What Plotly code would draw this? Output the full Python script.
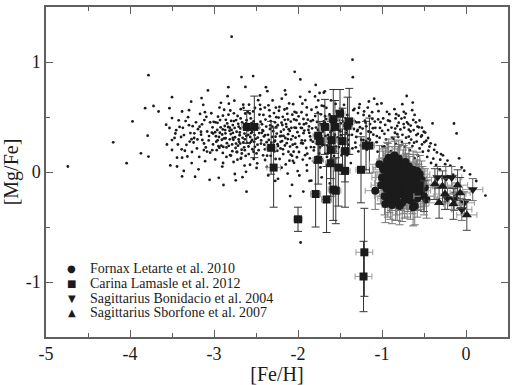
import plotly.graph_objects as go

# ---------------- Milky Way field stars (small dots) ----------------
mw_metal_poor = [(-4.74,0.05),(-4.20,0.27),(-4.04,0.08),(-3.97,0.46),(-3.87,0.17),(-3.82,0.58),(-3.78,0.88),(-3.78,0.14),
 (-3.79,0.33),(-3.72,0.60),(-3.66,0.55),(-3.57,0.43),(-3.53,0.40),(-3.53,0.58),(-3.50,0.68),(-3.50,0.49),(-3.50,0.29),
 (-3.52,0.06),(-3.56,0.25),(-3.50,0.20),(-3.43,0.25),(-3.44,0.05),(-3.44,0.13),(-3.38,0.13),(-3.36,0.01),(-3.38,-0.04),
 (-3.38,0.55),(-3.46,0.35),(-3.41,0.41),(-3.47,0.31),(-3.42,0.47),(-3.45,0.38)]

mw_band_34_30 = [(-3.392,0.318),(-3.214,0.452),(-3.063,0.287),(-3.347,0.193),(-3.128,0.611),(-3.281,0.354),(-3.017,0.406),
 (-3.176,0.137),(-3.309,0.498),(-3.098,0.223),(-3.243,0.268),(-3.371,0.402),(-3.154,0.339),(-3.032,0.534),(-3.266,0.081),
 (-3.191,0.389),(-3.115,0.472),(-3.328,0.247),(-3.046,0.176),(-3.225,-0.043),(-3.139,0.291),(-3.297,0.562),(-3.081,0.368),
 (-3.358,0.336),(-3.012,0.251),(-3.203,0.214),(-3.166,0.528),(-3.254,0.417),(-3.072,0.742),(-3.317,0.141),(-3.106,0.098),
 (-3.236,0.309),(-3.052,-0.071),(-3.184,0.024),(-3.289,0.277),(-3.143,0.433),(-3.026,0.358),(-3.385,0.206),(-3.121,0.199),
 (-3.272,0.639),(-3.091,0.502),(-3.338,0.463),(-3.197,0.296),(-3.059,0.327),(-3.148,0.672),(-3.262,0.182),(-3.004,0.456)]

mw_band_30_25 = [(-2.987,0.362),(-2.743,0.218),(-2.612,0.471),(-2.881,0.305),(-2.556,0.389),(-2.934,0.586),(-2.695,0.334),
 (-2.808,0.153),(-2.521,0.274),(-2.967,0.198),(-2.652,0.612),(-2.776,0.427),(-2.903,0.341),(-2.587,0.163),(-2.719,0.509),
 (-2.846,0.262),(-2.633,0.297),(-2.958,0.447),(-2.534,0.551),(-2.791,0.383),(-2.677,0.128),(-2.912,0.239),(-2.569,0.318),
 (-2.827,0.521),(-2.702,0.276),(-2.986,0.114),(-2.618,0.387),(-2.758,0.648),(-2.872,0.418),(-2.543,0.207),(-2.941,0.318),
 (-2.665,0.452),(-2.812,0.297),(-2.597,0.544),(-2.731,0.366),(-2.895,0.173),(-2.508,0.398),(-2.784,0.251),(-2.641,0.224),
 (-2.952,0.503),(-2.686,0.396),(-2.859,0.474),(-2.576,0.263),(-2.724,0.182),(-2.921,0.406),(-2.628,0.532),(-2.801,0.345),
 (-2.552,0.445),(-2.767,0.091),(-2.973,0.276),(-2.659,0.311),(-2.838,0.689),(-2.594,0.379),(-2.712,0.438),(-2.889,0.228),
 (-2.517,0.336),(-2.749,0.316),(-2.623,0.146),(-2.864,0.352),(-2.681,0.571),(-2.946,0.234),(-2.562,0.487),(-2.796,0.464),
 (-2.738,0.258),(-2.607,0.265),(-2.917,0.629),(-2.671,0.203),(-2.832,0.409),(-2.529,0.184),(-2.775,0.355),(-2.644,0.407),
 (-2.901,0.049),(-2.583,0.612),(-2.707,0.297),(-2.852,0.137),(-2.961,0.382),(-2.615,0.328),(-2.763,0.533),(-2.547,0.291),
 (-2.693,0.359),(-2.824,0.238),(-2.928,0.472),(-2.571,0.066),(-2.737,0.472),(-2.651,0.268),(-2.879,0.566),(-2.603,0.424),
 (-2.782,0.189),(-2.512,0.582),(-2.721,0.112),(-2.896,0.387),(-2.637,0.349),(-2.815,0.375),(-2.559,0.354),(-2.683,0.487),
 (-2.943,-0.053),(-2.769,0.293),(-2.626,0.773),(-2.862,0.307),(-2.538,0.428),(-2.754,0.401),(-2.669,0.168),(-2.906,0.293),
 (-2.589,0.232),(-2.843,0.442),(-2.714,0.239),(-2.977,0.325),(-2.648,0.583),(-2.806,0.559),(-2.527,0.119),(-2.741,-0.076),
 (-2.619,0.002),(-2.887,-0.118),(-2.673,0.863),(-2.829,0.771),(-2.534,0.872),(-2.613,-0.179),(-2.661,-0.047),(-2.790,1.230)]

mw_band_25_20 = [(-2.487,0.431),(-2.213,0.326),(-2.352,0.214),(-2.079,0.402),(-2.438,0.287),(-2.161,0.568),(-2.296,0.371),
 (-2.034,0.256),(-2.412,0.519),(-2.247,0.193),(-2.118,0.344),(-2.469,0.198),(-2.325,0.463),(-2.189,0.281),(-2.058,0.617),
 (-2.391,0.336),(-2.273,0.284),(-2.142,0.436),(-2.452,0.611),(-2.007,0.362),(-2.368,0.148),(-2.231,0.495),(-2.095,0.231),
 (-2.423,0.381),(-2.307,0.319),(-2.176,0.163),(-2.046,0.478),(-2.479,0.313),(-2.262,0.407),(-2.127,0.529),(-2.341,0.562),
 (-2.203,0.366),(-2.071,0.147),(-2.401,0.248),(-2.286,0.536),(-2.151,0.309),(-2.024,0.401),(-2.446,0.457),(-2.318,0.267),
 (-2.196,0.448),(-2.106,0.623),(-2.378,0.413),(-2.238,0.236),(-2.062,0.327),(-2.494,0.169),(-2.281,0.187),(-2.134,0.262),
 (-2.357,0.338),(-2.221,0.591),(-2.013,0.226),(-2.431,0.356),(-2.169,0.386),(-2.302,0.651),(-2.086,0.458),(-2.459,0.522),
 (-2.253,0.349),(-2.114,0.184),(-2.387,0.477),(-2.181,0.502),(-2.041,0.547),(-2.334,0.391),(-2.219,0.118),(-2.463,0.402),
 (-2.098,0.373),(-2.274,0.452),(-2.156,0.241),(-2.416,0.152),(-2.029,0.312),(-2.312,0.224),(-2.193,0.667),(-2.365,0.735),
 (-2.137,0.411),(-2.052,0.185),(-2.441,0.258),(-2.266,0.118),(-2.207,0.274),(-2.474,0.653),(-2.119,0.477),(-2.348,0.291),
 (-2.082,0.296),(-2.395,0.586),(-2.241,0.425),(-2.019,0.471),(-2.172,0.328),(-2.429,0.434),(-2.289,0.062),(-2.146,0.704),
 (-2.371,0.046),(-2.068,0.521),(-2.227,0.557),(-2.405,0.323),(-2.102,0.103),(-2.258,0.498),(-2.486,0.079),(-2.331,0.424),
 (-2.186,0.427),(-2.047,0.083),(-2.271,-0.081),(-2.354,-0.031),(-2.195,0.039),(-2.093,-0.219),(-2.071,-0.117),
 (-2.004,0.008),(-2.039,0.911),(-2.382,0.771),(-2.155,0.742),(-2.452,0.696),(-1.972,0.842),(-1.969,-0.641),
 (-2.123,-0.014),(-2.061,0.102)]

mw_band_20_15 = [(-1.983,0.437),(-1.721,0.312),(-1.847,0.227),(-1.592,0.451),(-1.934,0.353),(-1.662,0.583),(-1.786,0.404),
 (-1.527,0.288),(-1.897,0.518),(-1.748,0.168),(-1.613,0.362),(-1.962,0.262),(-1.823,0.471),(-1.687,0.247),(-1.553,0.619),
 (-1.876,0.382),(-1.764,0.539),(-1.638,0.401),(-1.948,0.621),(-1.507,0.378),(-1.859,0.124),(-1.731,0.435),(-1.598,0.227),
 (-1.917,0.286),(-1.806,0.331),(-1.674,0.171),(-1.541,0.482),(-1.988,0.182),(-1.759,0.651),(-1.624,0.523),(-1.839,0.566),
 (-1.703,0.367),(-1.571,0.147),(-1.902,0.442),(-1.778,0.259),(-1.652,0.304),(-1.518,0.417),(-1.943,0.113),(-1.812,0.196),
 (-1.694,0.459),(-1.607,0.651),(-1.869,0.414),(-1.738,0.223),(-1.561,0.339),(-1.993,0.506),(-1.781,0.589),(-1.633,0.268),
 (-1.856,0.323),(-1.717,0.603),(-1.512,0.227),(-1.925,0.377),(-1.669,0.392),(-1.797,0.687),(-1.584,0.458),(-1.958,0.543),
 (-1.752,0.349),(-1.616,0.186),(-1.883,0.476),(-1.678,0.507),(-1.544,0.551),(-1.832,0.396),(-1.716,0.114),(-1.966,0.402),
 (-1.598,0.374),(-1.773,0.455),(-1.652,0.242),(-1.916,0.153),(-1.529,0.314),(-1.809,0.224),(-1.693,0.721),(-1.862,0.729),
 (-1.637,0.418),(-1.552,0.188),(-1.941,0.259),(-1.766,0.097),(-1.707,0.276),(-1.974,0.683),(-1.619,0.476),(-1.848,0.291),
 (-1.582,0.296),(-1.895,0.587),(-1.741,0.427),(-1.519,0.471),(-1.672,0.328),(-1.929,0.434),(-1.789,0.792),(-1.743,0.718),
 (-1.681,0.733),(-1.863,-0.081),(-1.937,-0.178),(-1.842,-0.079),(-1.718,-0.048),(-1.621,-0.104),(-1.547,0.032),
 (-1.658,0.064),(-1.805,0.087),(-1.896,0.063)]

mw_band_15_09 = [(-1.487,0.334),(-1.213,0.551),(-1.352,0.214),(-1.079,0.402),(-1.438,0.487),(-1.161,0.368),(-1.296,0.371),
 (-0.934,0.256),(-1.412,0.519),(-1.247,0.293),(-1.118,0.544),(-1.469,0.198),(-1.325,0.463),(-1.189,0.281),(-1.058,0.617),
 (-1.391,0.336),(-1.273,0.584),(-1.142,0.436),(-1.452,0.611),(-0.907,0.462),(-1.368,0.448),(-1.231,0.395),(-0.995,0.231),
 (-1.423,0.381),(-1.307,0.319),(-1.176,0.263),(-1.046,0.478),(-1.479,0.513),(-1.262,0.407),(-1.127,0.229),(-1.341,0.562),
 (-1.203,0.466),(-0.971,0.347),(-1.401,0.248),(-1.286,0.536),(-1.151,0.509),(-1.024,0.401),(-1.446,0.457),(-1.318,0.267),
 (-1.196,0.448),(-1.006,0.623),(-1.378,0.413),(-1.238,0.236),(-1.062,0.327),(-1.494,0.369),(-1.281,0.187),(-1.134,0.362),
 (-1.357,0.338),(-1.221,0.291),(-0.913,0.526),(-1.431,0.356),(-1.169,0.586),(-1.302,0.451),(-1.086,0.458),(-1.459,0.422),
 (-1.253,0.349),(-1.114,0.484),(-1.387,0.477),(-1.181,0.202),(-0.941,0.547),(-1.334,0.391),(-1.219,0.518),(-1.463,0.302),
 (-0.998,0.373),(-1.274,0.452),(-1.156,0.641),(-1.416,0.152),(-1.029,0.312),(-1.312,0.224),(-1.093,0.667),(-1.351,1.021),
 (-1.347,0.862),(-1.052,0.185),(-0.962,0.428),(-1.371,0.081),(-0.952,0.296),(-1.108,0.398),(-1.042,0.553),(-0.927,0.381),
 (-1.266,0.617),(-0.986,0.487),(-1.144,0.293),(-1.328,0.574)]

mw_metal_rich = [(-0.887,0.404),(-0.713,0.312),(-0.552,0.214),(-0.379,0.202),(-0.838,0.487),(-0.661,0.368),(-0.496,0.271),
 (-0.834,0.256),(-0.612,0.519),(-0.447,0.193),(-0.818,0.344),(-0.669,0.198),(-0.525,0.403),(-0.389,0.121),(-0.758,0.617),
 (-0.591,0.336),(-0.473,0.284),(-0.742,0.436),(-0.852,0.571),(-0.307,0.112),(-0.568,0.148),(-0.731,0.495),(-0.435,0.231),
 (-0.623,0.381),(-0.807,0.319),(-0.676,0.263),(-0.346,0.178),(-0.879,0.313),(-0.562,0.407),(-0.727,0.229),(-0.641,0.562),
 (-0.503,0.366),(-0.771,0.147),(-0.801,0.448),(-0.686,0.436),(-0.451,0.309),(-0.524,0.251),(-0.846,0.357),(-0.618,0.267),
 (-0.796,0.228),(-0.706,0.691),(-0.578,0.413),(-0.638,0.236),(-0.462,0.137),(-0.894,0.189),(-0.781,0.387),(-0.534,0.322),
 (-0.757,0.338),(-0.421,0.261),(-0.613,0.126),(-0.831,0.526),(-0.769,0.486),(-0.702,0.451),(-0.486,0.358),(-0.659,0.422),
 (-0.553,0.469),(-0.514,0.184),(-0.587,0.277),(-0.681,0.322),(-0.741,0.547),(-0.634,0.631),(-0.819,0.418),(-0.863,0.302),
 (-0.398,0.442),(-0.274,0.152),(-0.356,0.064),(-0.416,0.082),(-0.312,0.024),(-0.248,0.071),(-0.221,0.104),(-0.187,0.058),
 (-0.143,0.441),(-0.112,0.351),(-0.082,0.124),(-0.052,0.041),(-0.021,0.012),(0.048,-0.021),(0.122,-0.082),(0.231,-0.214),
 (-0.153,-0.024),(-0.298,0.163),(-0.366,0.247)]

mw_extra = [(-3.172,0.412),(-2.894,0.512),(-2.633,0.198),(-2.415,0.373),(-2.208,0.214),(-1.987,0.327),(-1.764,0.384),
 (-1.532,0.402),(-3.083,0.186),(-2.812,0.403),(-2.557,0.276),(-2.336,0.507),(-2.122,0.299),(-1.902,0.218),(-1.682,0.452),
 (-1.458,0.262),(-3.234,0.352),(-2.957,0.288),(-2.706,0.412),(-2.482,0.248),(-2.267,0.321),(-2.041,0.404),(-1.824,0.276),
 (-1.603,0.309),(-3.119,0.259),(-2.851,0.223),(-2.592,0.338),(-2.373,0.271),(-2.158,0.474),(-1.935,0.482),(-1.712,0.242),
 (-1.491,0.442),(-3.298,0.426),(-3.011,0.349),(-2.776,0.309),(-2.528,0.461),(-2.304,0.412),(-2.087,0.158),(-1.866,0.356),
 (-1.641,0.337),(-3.046,0.452),(-2.798,0.149),(-2.547,0.362),(-2.326,0.147),(-2.111,0.389),(-1.889,0.167),(-1.664,0.481),
 (-1.438,0.398),(-2.936,0.221),(-2.688,0.258),(-2.462,0.354),(-2.243,0.253),(-2.019,0.539),(-1.796,0.508),(-1.573,0.403),
 (-3.155,0.366),(-2.867,0.381),(-2.618,0.442),(-2.394,0.206),(-2.179,0.206),(-1.953,0.399),(-1.728,0.524),(-1.506,0.279),
 (-3.267,0.298),(-2.982,0.452),(-2.731,0.182),(-2.504,0.302),(-2.284,0.276),(-2.063,0.248),(-1.848,0.462),(-1.624,0.246),
 (-1.402,0.292),(-3.108,0.544),(-2.823,0.621),(-2.574,0.532),(-2.351,0.606),(-2.132,0.578),(-1.912,0.654),(-1.692,0.598),
 (-1.474,0.571),(-2.752,-0.018),(-2.493,0.037),(-2.238,-0.062),(-1.984,-0.032),(-1.733,0.042),(-2.892,0.082),(-2.636,0.058),
 (-2.392,0.109),(-2.146,0.069),(-1.893,0.012),(-1.655,0.137),(-1.252,0.242),(-1.163,0.303),(-1.064,0.271),(-0.972,0.232),
 (-1.288,0.383),(-1.187,0.415),(-1.103,0.339),(-1.017,0.453),(-0.928,0.468),(-0.842,0.395),(-0.763,0.272),(-0.681,0.384),
 (-0.597,0.452),(-0.526,0.332),(-0.736,0.404),(-0.653,0.295),(-0.573,0.347),(-0.801,0.512),(-0.717,0.531),(-0.628,0.473),
 (-3.021,0.198),(-2.763,0.463),(-2.513,0.229),(-2.263,0.586),(-2.013,0.134),(-1.772,0.137),(-1.547,0.231),(-2.931,0.357),
 (-2.681,0.121),(-2.447,0.571),(-2.197,0.328),(-1.955,0.287),(-1.702,0.402),(-1.482,0.152)]

# ---------------- Fornax (Letarte et al. 2010) ----------------
fornax_feh = [-1.08,-1.03,-1.00,-0.98,-0.97,-0.96,-0.95,-0.94,-0.93,-0.92,-0.91,-0.90,-0.90,-0.89,-0.88,-0.87,-0.86,
 -0.85,-0.85,-0.84,-0.83,-0.82,-0.81,-0.80,-0.79,-0.79,-0.78,-0.77,-0.76,-0.75,-0.74,-0.73,-0.72,-0.71,-0.70,-0.69,
 -0.68,-0.67,-0.66,-0.65,-0.64,-0.63,-0.62,-0.61,-0.60,-0.59,-0.58,-0.57,-0.55,-0.54,-0.52,-0.50,-0.88,-0.93,-0.96,
 -0.85,-0.82,-0.76,-0.70,-0.80,-0.92,
 -1.01,-0.99,-0.97,-0.94,-0.91,-0.89,-0.87,-0.84,-0.81,-0.78,-0.75,-0.72,-0.69,-0.66,-0.63,-0.60,-0.57,-0.53,-0.49,
 -0.47,-0.95,-0.86,-0.74,-0.67,-0.58,-0.83,-0.71,-0.62]
fornax_mgfe = [-0.17,0.07,-0.05,0.02,-0.10,0.05,-0.15,-0.02,0.09,-0.07,-0.20,0.01,-0.26,-0.11,0.06,-0.04,-0.16,
 0.11,-0.08,-0.01,-0.22,0.04,-0.12,-0.05,-0.31,0.08,-0.18,-0.02,-0.09,0.03,-0.14,-0.25,-0.06,0.00,-0.11,-0.19,
 0.05,-0.03,-0.13,-0.08,-0.21,-0.32,-0.01,-0.31,-0.15,-0.06,-0.24,-0.10,-0.02,-0.17,-0.12,-0.22,-0.30,-0.24,-0.29,
 0.15,-0.27,-0.28,-0.24,0.12,0.13,
 -0.12,0.04,-0.22,0.10,-0.03,-0.18,0.01,-0.27,0.06,-0.08,-0.21,0.09,-0.01,-0.26,0.02,-0.09,-0.18,-0.07,-0.14,
 -0.25,-0.05,-0.12,0.07,-0.17,0.01,-0.15,-0.16,-0.12]
fornax_err_feh = 0.12
fornax_err_mgfe = 0.17

# ---------------- Carina (Lamasle et al. 2012) ----------------
carina_feh = [-2.61,-2.52,-2.32,-2.29,-2.00,-1.79,-1.76,-1.76,-1.74,-1.68,-1.66,-1.61,-1.61,-1.60,-1.58,-1.58,
 -1.56,-1.55,-1.52,-1.50,-1.47,-1.44,-1.44,-1.41,-1.39,-1.25,-1.19,-1.15,-1.21,-1.22]
carina_mgfe = [0.41,0.41,0.22,0.04,-0.43,-0.20,0.33,0.11,0.28,0.41,-0.25,0.08,0.20,0.29,0.48,-0.16,
 0.41,-0.17,0.04,0.53,0.28,0.19,0.01,0.42,0.46,0.02,0.24,0.24,-0.73,-0.95]
carina_err_feh = [0.06,0.06,0.06,0.08,0.05,0.06,0.06,0.06,0.06,0.06,0.06,0.06,0.06,0.06,0.06,0.06,
 0.06,0.06,0.06,0.06,0.06,0.06,0.06,0.06,0.06,0.06,0.06,0.06,0.10,0.10]
carina_err_mgfe = [0.15,0.28,0.24,0.36,0.11,0.30,0.20,0.22,0.18,0.25,0.30,0.30,0.26,0.22,0.27,0.28,
 0.24,0.30,0.35,0.22,0.30,0.28,0.33,0.26,0.30,0.30,0.22,0.25,0.40,0.32]

# ---------------- Sagittarius (Bonifacio et al. 2004) ----------------
sgr_bon_feh = [0.08,-0.05,-0.14,-0.02,-0.22,-0.34,-0.24,-0.17,-0.12]
sgr_bon_mgfe = [-0.16,-0.34,-0.25,-0.28,-0.24,-0.05,-0.05,-0.05,-0.20]

# ---------------- Sagittarius (Sborfone et al. 2007) ----------------
sgr_sbo_feh = [0.01,-0.37,-0.32,-0.07,-0.28,-0.15,-0.50,-0.25,-0.10]
sgr_sbo_mgfe = [-0.39,-0.11,-0.28,-0.19,-0.13,-0.29,-0.22,-0.20,-0.12]

x_tick_vals = [-5, -4, -3, -2, -1, 0]
x_tick_text = ["-5", "-4", "-3", "-2", "-1", "0"]
y_tick_vals = [-1, 0, 1]
y_tick_text = ["-1", "0", "1"]

legend_labels = ["Fornax Letarte et al. 2010", "Carina Lamasle et al. 2012",
                 "Sagittarius Bonidacio et al. 2004", "Sagittarius Sborfone et al. 2007"]
legend_symbols = ["\u25CF", "\u25A0", "\u25BC", "\u25B2"]

# ---------------------------------------------------------------------
field = (mw_metal_poor + mw_band_34_30 + mw_band_30_25 + mw_band_25_20 +
         mw_band_20_15 + mw_band_15_09 + mw_metal_rich + mw_extra)
field_feh = [p[0] for p in field]
field_mgfe = [p[1] for p in field]

INK = "#1b1b1b"
FONT = "Liberation Serif, Times New Roman, Times, serif"

fig = go.Figure()
fig.add_trace(go.Scatter(x=field_feh, y=field_mgfe, mode="markers", showlegend=False,
                         marker=dict(size=2.8, color=INK), hoverinfo="skip"))

fig.add_trace(go.Scatter(
    x=carina_feh, y=carina_mgfe, mode="markers", showlegend=False,
    marker=dict(symbol="square", size=8, color=INK),
    error_y=dict(type="data", array=carina_err_mgfe, color="#333333", thickness=1, width=4),
    error_x=dict(type="data", array=carina_err_feh, color="#9a9a9a", thickness=1, width=3)))

fig.add_trace(go.Scatter(
    x=fornax_feh, y=fornax_mgfe, mode="markers", showlegend=False,
    marker=dict(symbol="circle", size=8, color=INK),
    error_y=dict(type="constant", value=fornax_err_mgfe, color="#777777", thickness=1, width=4),
    error_x=dict(type="constant", value=fornax_err_feh, color="#999999", thickness=1, width=3)))

fig.add_trace(go.Scatter(
    x=sgr_bon_feh, y=sgr_bon_mgfe, mode="markers", showlegend=False,
    marker=dict(symbol="triangle-down", size=9, color=INK),
    error_y=dict(type="constant", value=0.1, color="#666666", thickness=1, width=4),
    error_x=dict(type="constant", value=0.12, color="#999999", thickness=1, width=3)))

fig.add_trace(go.Scatter(
    x=sgr_sbo_feh, y=sgr_sbo_mgfe, mode="markers", showlegend=False,
    marker=dict(symbol="triangle-up", size=9, color=INK),
    error_y=dict(type="constant", value=0.14, color="#444444", thickness=1, width=4),
    error_x=dict(type="constant", value=0.12, color="#999999", thickness=1, width=3)))

# legend built from text annotations
row_y = [271, 286, 301, 315]
for sym, lab, yy in zip(legend_symbols, legend_labels, row_y):
    yp = (340 - yy) / 333.0
    fig.add_annotation(x=(72 - 46) / 464.0, y=yp, xref="paper", yref="paper", text=sym,
                       showarrow=False, xanchor="center", yanchor="middle",
                       font=dict(family="DejaVu Sans", size=10, color=INK))
    fig.add_annotation(x=(88 - 46) / 464.0, y=yp, xref="paper", yref="paper", text=lab,
                       showarrow=False, xanchor="left", yanchor="middle",
                       font=dict(family=FONT, size=14, color=INK))

axis_common = dict(showline=True, mirror="ticks", linecolor="#606060", linewidth=1.5,
                   ticks="inside", ticklen=7, tickwidth=1, tickcolor="#606060",
                   showgrid=False, zeroline=False,
                   tickfont=dict(family=FONT, size=18, color=INK))

fig.update_xaxes(range=[-5, 0.5], tickvals=x_tick_vals, ticktext=x_tick_text,
                 minor=dict(tick0=-5, dtick=0.5, ticks="inside", ticklen=4, tickcolor="#606060"),
                 title=dict(text="[Fe/H]", font=dict(family=FONT, size=20, color=INK), standoff=4),
                 **axis_common)
fig.update_yaxes(range=[-1.5, 1.5], tickvals=y_tick_vals, ticktext=y_tick_text,
                 minor=dict(tick0=-1.5, dtick=0.5, ticks="inside", ticklen=4, tickcolor="#606060"),
                 title=dict(text="[Mg/Fe]", font=dict(family=FONT, size=20, color=INK), standoff=4),
                 **axis_common)

fig.update_layout(width=513, height=385, margin=dict(l=46, r=3, t=7, b=45),
                  paper_bgcolor="white", plot_bgcolor="white", showlegend=False)

fig.write_html("out.html")
